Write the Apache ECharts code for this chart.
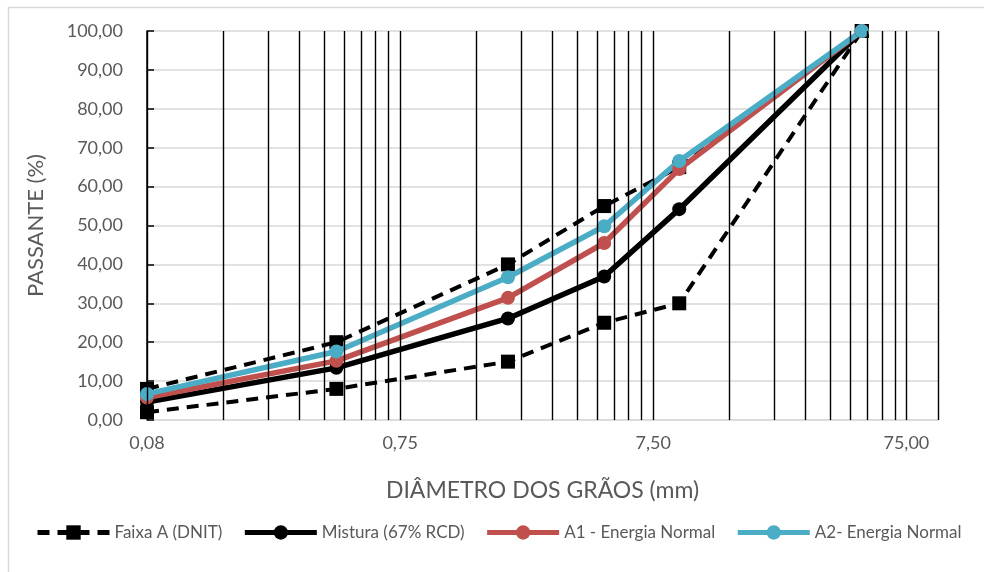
<!DOCTYPE html>
<html><head><meta charset="utf-8">
<script src="https://cdn.jsdelivr.net/npm/echarts@6/dist/echarts.min.js"></script>
<style>html,body{margin:0;padding:0;background:#fff}#c{width:984px;height:572px}</style>
</head><body><div id="c"></div>
<script>
// Sieve openings (mm)
const sieveSizes = [0.075, 0.42, 2.0, 4.8, 9.5, 50];
// % passing
const faixaUpper = [8, 20, 40, 55, 65, 100];
const faixaLower = [2, 8, 15, 25, 30, 100];
const mistura = [4.6, 13.4, 26.1, 36.9, 54.2, 100];
const a1 = [5.8, 15.2, 31.4, 45.5, 64.5, 100];
const a2 = [6.7, 17.6, 36.7, 49.8, 66.6, 100];
const seriesNames = ['Faixa A (DNIT)', 'Mistura (67% RCD)', 'A1 - Energia Normal', 'A2- Energia Normal'];
const xTickLabels = ['0,08', '0,75', '7,50', '75,00'];
const yTicks = [0, 10, 20, 30, 40, 50, 60, 70, 80, 90, 100];
const baseSize = 0.075;   // axis origin (mm)
const axisMaxSize = 100;  // axis end (mm)

const toX = d => d / baseSize;
const pts = vals => sieveSizes.map((d, i) => [toX(d), vals[i]]);

// log grid lines at k * 0.075 * 10^n
const gridLines = [];
for (let n = 0; n <= 2; n++) for (let k = 1; k <= 9; k++) gridLines.push(k * Math.pow(10, n));
gridLines.push(1000, toX(axisMaxSize));

const FONT = 'Lato, "Open Sans", sans-serif';
const GRAY = '#595959';
const chart = echarts.init(document.getElementById('c'), null, {renderer: 'canvas'});
const lineBase = (name, vals, color, symbol, extra) => Object.assign({
  name, type: 'line', data: pts(vals), symbol, symbolSize: 14,
  itemStyle: {color}, lineStyle: {color, width: 5.5},
  animation: false, z: 3
}, extra || {});

chart.setOption({
  animation: false,
  backgroundColor: '#fff',
  graphic: [{type: 'rect', shape: {x: 8.5, y: 7.5, width: 1000, height: 600}, style: {fill: 'none', stroke: '#d9d9d9', lineWidth: 1.5}, z: -10}],
  grid: {left: 147, right: 46, top: 31, bottom: 152, containLabel: false},
  legend: {
    data: seriesNames, left: 30, top: 519, itemWidth: 72, itemHeight: 18, itemGap: 20,
    lineStyle: {width: 5},
    textStyle: {fontFamily: FONT, fontSize: 17, color: GRAY}
  },
  xAxis: {
    type: 'log', logBase: 10, min: 1, max: toX(axisMaxSize),
    name: 'DIÂMETRO DOS GRÃOS (mm)', nameLocation: 'middle', nameGap: 59,
    nameTextStyle: {fontFamily: FONT, fontSize: 23, color: GRAY},
    axisLine: {lineStyle: {color: '#d9d9d9', width: 1.5}},
    axisTick: {show: false},
    splitLine: {show: false},
    axisLabel: {
      fontFamily: FONT, fontSize: 18, color: GRAY, margin: 14,
      formatter: v => { const e = Math.log10(v); const r = Math.round(e); return (Math.abs(e - r) < 1e-6 && xTickLabels[r] !== undefined) ? xTickLabels[r] : ''; }
    }
  },
  yAxis: {
    type: 'value', min: 0, max: 100, interval: 10,
    name: 'PASSANTE (%)', nameLocation: 'middle', nameGap: 100,
    nameTextStyle: {fontFamily: FONT, fontSize: 22, color: GRAY},
    axisLine: {show: true, lineStyle: {color: '#000', width: 1.5}},
    axisTick: {show: true, inside: true, length: 7, lineStyle: {color: '#000', width: 1.5}},
    splitLine: {show: true, lineStyle: {color: '#d9d9d9', width: 1.5}},
    axisLabel: {fontFamily: FONT, fontSize: 18, color: GRAY, margin: 24,
      formatter: v => yTicks.includes(v) ? v.toFixed(2).replace('.', ',') : ''}
  },
  series: [
    {type: 'line', data: [], z: 1, silent: true,
      markLine: {silent: true, symbol: 'none', animation: false, label: {show: false},
        lineStyle: {color: '#000', type: 'solid', width: 1.4},
        data: gridLines.map(x => ({xAxis: x}))}},
    lineBase(seriesNames[0], faixaLower, '#000', 'rect', {lineStyle: {color: '#000', width: 4, type: [12, 8]}, z: 2}),
    lineBase(seriesNames[0], faixaUpper, '#000', 'rect', {lineStyle: {color: '#000', width: 4, type: [12, 8]}, z: 2}),
    lineBase(seriesNames[1], mistura, '#000', 'circle'),
    lineBase(seriesNames[2], a1, '#C0504D', 'circle'),
    lineBase(seriesNames[3], a2, '#4BACC6', 'circle')
  ]
});
</script></body></html>
